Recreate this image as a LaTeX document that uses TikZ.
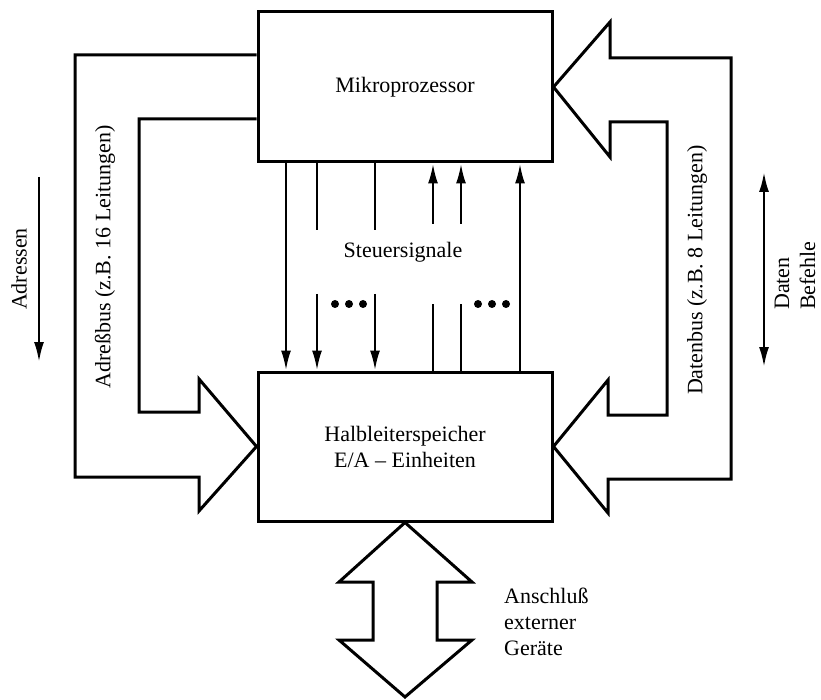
\documentclass[tikz,border=0pt]{standalone}
\usepackage{fontspec}
\setmainfont{Liberation Serif}
\usetikzlibrary{positioning,arrows.meta}
\tikzset{
  block/.style={
    draw,
    rectangle,
    line width=3pt,
    minimum height=150pt,
    minimum width=294pt,
    align=center
  },
  bus/.style={draw, line width=3pt, line join=miter},
  line/.style={-{Latex[length=20pt,width=10pt]}, line width=2.5pt},
  twoway/.style={{Latex[length=20pt,width=10pt]}-{Latex[length=20pt,width=10pt]}, line width=2.5pt},
  dot/.style={circle,minimum size=8pt,inner sep=0pt,outer sep=0pt,fill=black},
  vlabel/.style={rotate=90, inner sep=0pt}
}

\begin{document}
\begin{tikzpicture}[x=1pt,y=-1pt,font=\fontsize{22}{26}\selectfont]
\useasboundingbox (0,0) rectangle (821,700);

\node[block] (processor) at (405,87) {Mikroprozessor};
\node[block, below = 207pt of processor, minimum height=149pt] (memory) {Halbleiterspeicher\\E/A – Einheiten};

% control lines
\node (control) at (403,252) {Steuersignale};
\draw[line] (processor.south -| 286,0) -- (memory.north -| 286,0);
\foreach \x in {317,375} {
  \draw[line width=2.5pt] (processor.south -| \x,0) -- (\x,230);
  \draw[line] (\x,294) -- (memory.north -| \x,0);
}
\draw[line] (memory.north -| 520,0) -- (processor.south -| 520,0);
\foreach \x in {433,461} {
  \draw[line width=2.5pt] (memory.north -| \x,0) -- (\x,304);
  \draw[line] (\x,224) -- (processor.south -| \x,0);
}
\foreach \x [count=\i] in {335,349,363} \node[dot] (dots_left\i) at (\x,304) {};
\foreach \x [count=\i] in {478,492,506} \node[dot] (dots_right\i) at (\x,304) {};

% address bus
\draw[bus] (processor.west |- 0,55) -- (75,55) -- (75,477) -- (199,477) -- (199,511)
  -- (memory.west) -- (199,379) -- (199,412) -- (139,412) -- (139,119) -- (processor.west |- 0,119);
\node[vlabel] (address_label) at (105,257) {Adreßbus (z.B. 16 Leitungen)};
\node[vlabel] (address_dir) at (19,269) {Adressen};
\coordinate (address_top) at (39,177);
\coordinate (address_bottom) at (39,362);
\draw[line] (address_top) -- (address_bottom);

% data bus
\draw[bus] (processor.east) -- (610,22) -- (610,58) -- (731,58) -- (731,479) -- (608,479) -- (608,513)
  -- (memory.east) -- (608,380) -- (608,415) -- (667,415) -- (667,122) -- (610,122) -- (610,157) -- cycle;
\node[vlabel] (data_label) at (697,270) {Datenbus (z.B. 8 Leitungen)};
\node[vlabel, anchor=west, align=left] (data_dir) at (795,310) {Daten\\Befehle};
\coordinate (data_top) at (764,172);
\coordinate (data_bottom) at (764,367);
\draw[twoway] (data_top) -- (data_bottom);

% external devices
\draw[bus] (memory.south) -- (472,582) -- (437,582) -- (437,640) -- (472,640) -- (405,697)
  -- (339,640) -- (373,640) -- (373,582) -- (339,582) -- cycle;
\node[anchor=west, align=left, inner sep=0pt] (external) at (504,622) {Anschluß\\externer\\Geräte};

\end{tikzpicture}
\end{document}
